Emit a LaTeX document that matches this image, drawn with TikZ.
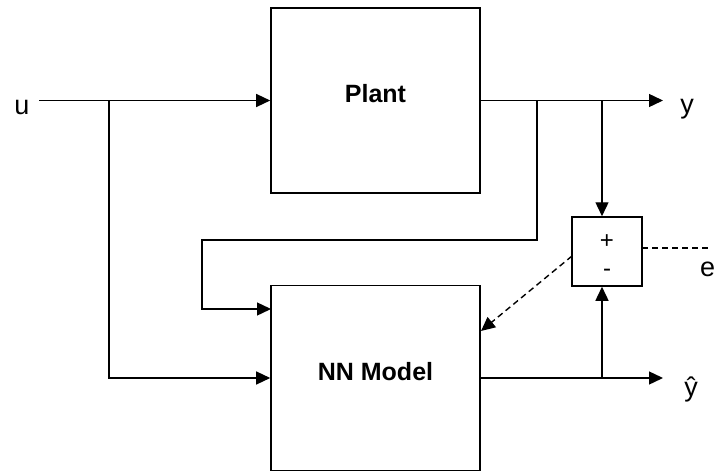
\documentclass[tikz,border=0pt]{standalone}
\usepackage{fontspec}
\setmainfont{Liberation Sans}
\usetikzlibrary{arrows.meta}
\begin{document}
\begin{tikzpicture}[x=1pt,y=-1pt,
  block/.style={draw,line width=1.6pt,minimum width=209pt,minimum height=185pt,inner sep=0pt},
  sumbox/.style={draw,line width=1.5pt,minimum width=70pt,minimum height=69pt,inner sep=0pt},
  wire/.style={line width=1.4pt,-{Triangle[length=14pt,width=13pt]}},
  dwire/.style={line width=1.4pt,dash pattern=on 6pt off 4pt},
  boldlbl/.style={font=\fontsize{25}{30}\selectfont\bfseries,inner sep=0pt},
  lbl/.style={font=\fontsize{27}{32}\selectfont,inner sep=0pt},
  signlbl/.style={font=\fontsize{24}{28}\selectfont,inner sep=0pt}]
\fill[white] (0,0) rectangle (716,471);
\useasboundingbox (0,0) rectangle (716,471);

\node[block] (plant) at (375.5,100.5) {};
\node[block] (nn) at (375.5,378) {};
\node[sumbox] (sum) at (607,251.5) {};

\node[boldlbl] (plantlbl) at (375.5,94) {Plant};
\node[boldlbl] (nnlbl) at (375.5,372) {NN Model};
\node[signlbl] (plus) at (607,242) {+};
\node[signlbl] (minus) at (607,273) {-};

\node[lbl,anchor=base] (u) at (22,114) {u};
\node[lbl,anchor=base] (y) at (687,113) {y};
\node[lbl,anchor=base] (yhat) at (691,396) {ŷ};
\node[lbl,anchor=base west] (e) at (700,276) {e};

\coordinate (uin) at (39,100.5);
\coordinate (j1) at (109,100.5);
\coordinate (j2) at (537,100.5);
\coordinate (j3) at (602,100.5);
\coordinate (yout) at (663,100.5);
\coordinate (k1) at (202,240);
\coordinate (nnin2) at (271,309);
\coordinate (j4) at (602,378);
\coordinate (yhatout) at (663,378);
\coordinate (ds) at (572,256);
\coordinate (dt) at (481,331);
\coordinate (es) at (642,248);
\coordinate (ee) at (711,248);

\draw[wire] (uin) -- (plant.west);
\draw[wire] (j1) |- (nn.west);
\draw[wire] (plant.east) -- (yout);
\draw[wire] (j2) |- (k1) |- (nnin2);
\draw[wire] (j3) -- (j3 |- sum.north);
\draw[wire] (nn.east) -- (yhatout);
\draw[wire] (j4) -- (j4 |- sum.south);
\draw[dwire,-{Triangle[length=14pt,width=13pt]}] (ds) -- (dt);
\draw[dwire] (es) -- (ee);
\end{tikzpicture}
\end{document}
